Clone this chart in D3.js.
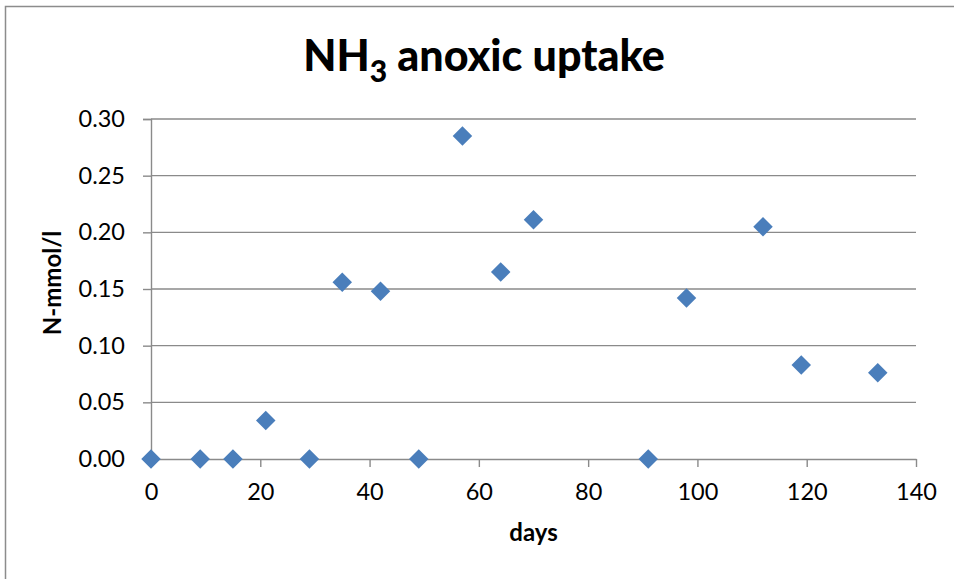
<!DOCTYPE html>
<html>
<head>
<meta charset="utf-8">
<script src="https://cdn.jsdelivr.net/npm/d3@7/dist/d3.min.js"></script>
<style>
  html, body { margin: 0; padding: 0; background: #fff; }
  svg { display: block; }
  text { font-family: Lato, "Open Sans", sans-serif; fill: #000; }
</style>
</head>
<body>
<svg id="chart" width="954" height="579"></svg>
<script>
// Sampling days and measured anoxic NH3 uptake (N-mmol/l)
const days = [0, 9, 15, 21, 29, 35, 42, 49, 57, 64, 70, 91, 98, 112, 119, 133];
const uptake = [0, 0, 0, 0.034, 0, 0.156, 0.148, 0, 0.285, 0.165, 0.211, 0, 0.142, 0.205, 0.083, 0.076];

const xTicks = [0, 20, 40, 60, 80, 100, 120, 140];
const yTicks = [0, 0.05, 0.10, 0.15, 0.20, 0.25, 0.30];

const width = 954, height = 579;
const margin = { top: 119, right: 38, bottom: 120, left: 151 };
const innerW = width - margin.left - margin.right;
const innerH = height - margin.top - margin.bottom;

const svg = d3.select("#chart");

// chart frame
svg.append("rect")
  .attr("x", 5.5).attr("y", 6.5)
  .attr("width", width + 20).attr("height", height + 20)
  .attr("fill", "none").attr("stroke", "#8c8c8c").attr("stroke-width", 1.5);

const x = d3.scaleLinear().domain([0, 140]).range([0, innerW]);
const y = d3.scaleLinear().domain([0, 0.30]).range([innerH, 0]);

const g = svg.append("g").attr("transform", `translate(${margin.left},${margin.top})`);

// horizontal gridlines
g.append("g")
  .selectAll("line")
  .data(yTicks.filter(t => t > 0))
  .join("line")
  .attr("x1", 0).attr("x2", innerW)
  .attr("y1", d => y(d)).attr("y2", d => y(d))
  .attr("stroke", "#8a8a8a").attr("stroke-width", 1.4);

// y axis
const yAxis = g.append("g")
  .call(d3.axisLeft(y).tickValues(yTicks).tickFormat(d3.format(".2f")).tickSize(8).tickPadding(18));
yAxis.select(".domain").attr("stroke", "#8a8a8a").attr("stroke-width", 1.4);
yAxis.selectAll(".tick line").attr("stroke", "#8a8a8a").attr("stroke-width", 1.4);
yAxis.selectAll(".tick text")
  .attr("font-family", "Lato, sans-serif").attr("font-size", 23.5).attr("fill", "#000");

// x axis
const xAxis = g.append("g")
  .attr("transform", `translate(0,${innerH})`)
  .call(d3.axisBottom(x).tickValues(xTicks).tickSize(8).tickSizeOuter(0).tickPadding(16));
xAxis.select(".domain").attr("stroke", "#8a8a8a").attr("stroke-width", 1.4);
xAxis.selectAll(".tick line").attr("stroke", "#8a8a8a").attr("stroke-width", 1.4);
xAxis.selectAll(".tick text")
  .attr("font-family", "Lato, sans-serif").attr("font-size", 23.5).attr("fill", "#000");

// markers
const pts = days.map((d, i) => ({ day: d, value: uptake[i] }));
const diamond = d3.symbol().type(d3.symbolSquare).size(190);
g.append("g")
  .selectAll("path")
  .data(pts)
  .join("path")
  .attr("d", diamond)
  .attr("transform", d => `translate(${x(d.day)},${y(d.value)}) rotate(45)`)
  .attr("fill", "#4a7ebb");

// title with subscript
const title = svg.append("text")
  .attr("x", 484)
  .attr("y", 71)
  .attr("text-anchor", "middle")
  .attr("font-weight", 900)
  .attr("font-size", 43);
title.append("tspan").text("NH");
title.append("tspan").text("3").attr("font-size", 30).attr("dy", 11);
title.append("tspan").text(" anoxic uptake").attr("dy", -11);

// axis titles
svg.append("text")
  .attr("x", margin.left + innerW / 2)
  .attr("y", 541)
  .attr("text-anchor", "middle")
  .attr("font-weight", "bold")
  .attr("font-size", 24)
  .text("days");

svg.append("text")
  .attr("transform", `translate(61,${margin.top + innerH / 2 - 6}) rotate(-90)`)
  .attr("text-anchor", "middle")
  .attr("font-weight", "bold")
  .attr("font-size", 24)
  .text("N-mmol/l");
</script>
</body>
</html>
